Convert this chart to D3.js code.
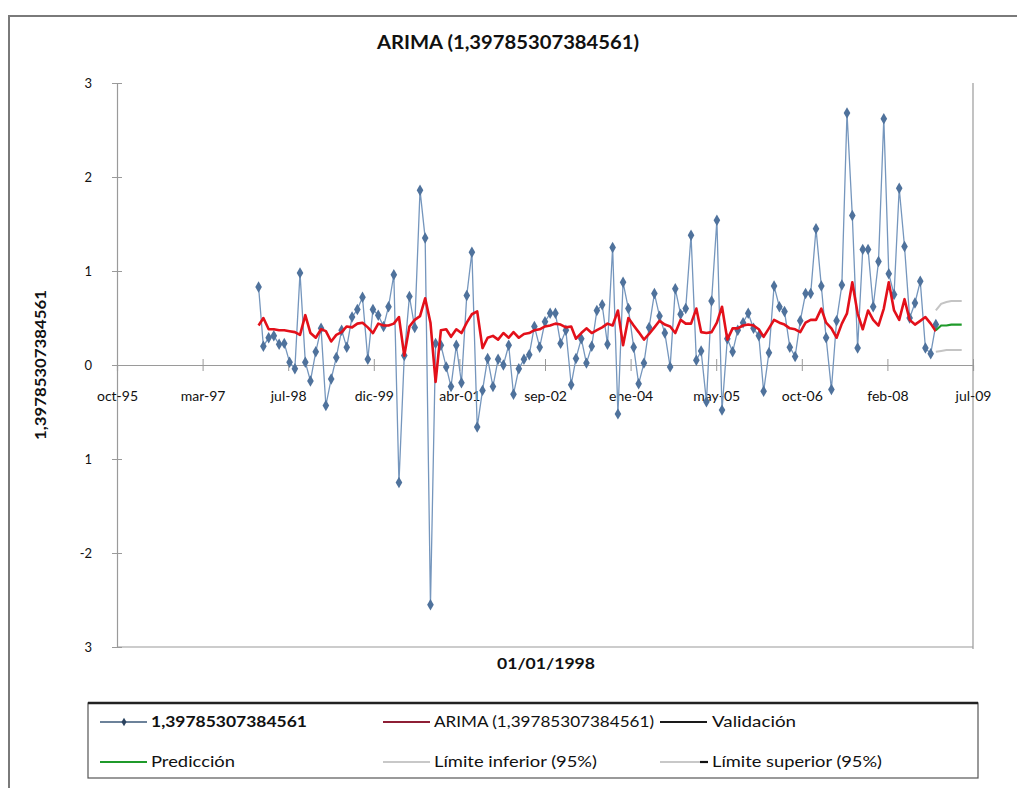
<!DOCTYPE html>
<html>
<head>
<meta charset="utf-8">
<script src="https://cdn.jsdelivr.net/npm/d3@7"></script>
<style>
  html, body { margin: 0; padding: 0; background: #fff; }
  svg { display: block; }
  text { font-family: Lato, "Open Sans", "Liberation Sans", sans-serif; fill: #111; }
</style>
</head>
<body>
<svg id="chart" width="1017" height="788"></svg>
<script>
// Monthly observations, first month Feb 1998
const seriesStart = [1998, 1];   // year, zero-based month
const observed = [
  0.83, 0.20, 0.29, 0.31, 0.22, 0.23, 0.03, -0.04, 0.98, 0.03, -0.17, 0.14,
  0.39, -0.43, -0.15, 0.08, 0.37, 0.19, 0.51, 0.59, 0.72, 0.06, 0.59, 0.53,
  0.41, 0.62, 0.96, -1.25, 0.10, 0.73, 0.40, 1.86, 1.35, -2.55, 0.23, 0.21,
  -0.02, -0.23, 0.21, -0.19, 0.74, 1.20, -0.66, -0.27, 0.07, -0.23, 0.06, 0.00,
  0.21, -0.31, -0.04, 0.06, 0.11, 0.41, 0.19, 0.46, 0.55, 0.55, 0.23, 0.37,
  -0.21, 0.07, 0.28, 0.02, 0.20, 0.58, 0.64, 0.22, 1.25, -0.52, 0.88, 0.60,
  0.19, -0.20, 0.02, 0.40, 0.76, 0.52, 0.34, -0.02, 0.81, 0.54, 0.60, 1.38,
  0.05, 0.15, -0.39, 0.68, 1.54, -0.48, 0.28, 0.14, 0.37, 0.45, 0.55, 0.39,
  0.31, -0.28, 0.13, 0.84, 0.62, 0.57, 0.19, 0.09, 0.47, 0.76, 0.76, 1.45,
  0.84, 0.29, -0.26, 0.47, 0.85, 2.68, 1.59, 0.18, 1.23, 1.23, 0.62, 1.10,
  2.62, 0.97, 0.75, 1.88, 1.26, 0.50, 0.66, 0.89, 0.18, 0.12, 0.43
];
// ARIMA fitted values, same months
const fitted = [
  0.42, 0.50, 0.38, 0.38, 0.37, 0.37, 0.36, 0.35, 0.32, 0.53, 0.34, 0.29,
  0.38, 0.36, 0.25, 0.32, 0.35, 0.41, 0.40, 0.44, 0.45, 0.40, 0.34, 0.44,
  0.42, 0.42, 0.44, 0.51, 0.10, 0.41, 0.48, 0.52, 0.71, 0.45, -0.18, 0.37,
  0.38, 0.30, 0.38, 0.34, 0.45, 0.54, 0.57, 0.18, 0.29, 0.31, 0.27, 0.34,
  0.29, 0.35, 0.29, 0.33, 0.34, 0.37, 0.38, 0.41, 0.42, 0.44, 0.43, 0.40,
  0.41, 0.28, 0.34, 0.39, 0.34, 0.37, 0.40, 0.44, 0.42, 0.58, 0.21, 0.50,
  0.42, 0.35, 0.27, 0.33, 0.40, 0.47, 0.43, 0.41, 0.34, 0.48, 0.44, 0.44,
  0.60, 0.35, 0.34, 0.35, 0.45, 0.62, 0.27, 0.39, 0.39, 0.42, 0.43, 0.42,
  0.38, 0.30, 0.39, 0.48, 0.45, 0.43, 0.39, 0.38, 0.35, 0.45, 0.48, 0.48,
  0.60, 0.45, 0.39, 0.29, 0.44, 0.55, 0.88, 0.55, 0.38, 0.58, 0.48, 0.42,
  0.60, 0.88, 0.58, 0.48, 0.70, 0.48, 0.43, 0.47, 0.51, 0.44, 0.36
];
// Forecast horizon starts at the last fitted month
const forecastOffset = 130;
const forecast = [0.37, 0.42, 0.42, 0.43, 0.43, 0.43];
const lowerBound = [0.14, 0.15, 0.16, 0.16, 0.16, 0.16];
const upperBound = [0.58, 0.65, 0.67, 0.68, 0.68, 0.68];

const xTickLabels = ["oct-95", "mar-97", "jul-98", "dic-99", "abr-01", "sep-02",
                     "ene-04", "may-05", "oct-06", "feb-08", "jul-09"];
const yTickValues = [-3, -2, -1, 0, 1, 2, 3];
const yTickLabels = ["3", "-2", "1", "0", "1", "2", "3"];

const titleText = "ARIMA (1,39785307384561)";
const xTitle = "01/01/1998";
const yTitle = "1,39785307384561";
const legendItems = [
  { label: "1,39785307384561", kind: "marker", w: 156 },
  { label: "ARIMA (1,39785307384561)", kind: "arima", w: 220 },
  { label: "Validación", kind: "valid", w: 84 },
  { label: "Predicción", kind: "pred", w: 84 },
  { label: "Límite inferior (95%)", kind: "lower", w: 163 },
  { label: "Límite superior (95%)", kind: "upper", w: 170 }
];

const svg = d3.select("#chart");

// spreadsheet-style date axis: serial 35000 .. 40000 every 500 days
const axisStart = new Date(1995, 9, 28);
const axisEnd = d3.timeDay.offset(axisStart, 5000);
const xTicks = d3.range(11).map(k => d3.timeDay.offset(axisStart, 500 * k));

const plot = { left: 117, right: 973, top: 83, bottom: 647 };
const x = d3.scaleTime().domain([axisStart, axisEnd]).range([plot.left, plot.right]);
const y = d3.scaleLinear().domain([-3, 3]).range([plot.bottom, plot.top]);

const monthDate = i => new Date(seriesStart[0], seriesStart[1] + i, 1);

// outer frame
svg.append("path")
  .attr("d", "M9,788 V16 H1017")
  .attr("fill", "none").attr("stroke", "#7a7a7a").attr("stroke-width", 2);

// title
svg.append("text")
  .attr("x", 508).attr("y", 49)
  .attr("text-anchor", "middle")
  .attr("font-size", 18).attr("font-weight", "bold")
  .attr("textLength", 262).attr("lengthAdjust", "spacingAndGlyphs")
  .text(titleText);

// plot frame: right and bottom edges
svg.append("line")
  .attr("x1", plot.right).attr("x2", plot.right)
  .attr("y1", plot.top).attr("y2", plot.bottom + 2)
  .attr("stroke", "#9a9a9a").attr("stroke-width", 1.2);
svg.append("line")
  .attr("x1", plot.left).attr("x2", plot.right)
  .attr("y1", plot.bottom).attr("y2", plot.bottom)
  .attr("stroke", "#9a9a9a").attr("stroke-width", 1.2);

// y axis
const yAxis = d3.axisLeft(y)
  .tickValues(yTickValues)
  .tickSize(5)
  .tickPadding(20)
  .tickFormat((d, i) => yTickLabels[i]);
const yg = svg.append("g").attr("transform", `translate(${plot.left},0)`).call(yAxis);
yg.select(".domain").attr("stroke", "#9a9a9a").attr("stroke-width", 1.2);
yg.selectAll(".tick line").attr("stroke", "#9a9a9a").attr("x2", 5).attr("x1", -5);
yg.selectAll(".tick text").attr("font-size", 13).attr("fill", "#222")
  .attr("font-family", "Lato, 'Open Sans', sans-serif");

// x axis through zero
const xAxis = d3.axisBottom(x)
  .tickValues(xTicks)
  .tickSize(6)
  .tickPadding(22)
  .tickFormat((d, i) => xTickLabels[i]);
const xg = svg.append("g").attr("transform", `translate(0,${y(0)})`).call(xAxis);
xg.select(".domain").attr("stroke", "#9a9a9a").attr("stroke-width", 1.2);
xg.selectAll(".tick line").attr("stroke", "#9a9a9a").attr("y1", -6).attr("y2", 6);
xg.selectAll(".tick text").attr("font-size", 14).attr("fill", "#333")
  .attr("font-family", "Lato, 'Open Sans', sans-serif")
  .attr("dy", "0.55em");

// axis titles
svg.append("text")
  .attr("x", 546).attr("y", 669)
  .attr("text-anchor", "middle")
  .attr("font-size", 16).attr("font-weight", "bold")
  .attr("textLength", 98).attr("lengthAdjust", "spacingAndGlyphs")
  .text(xTitle);
svg.append("text")
  .attr("transform", "translate(46,365) rotate(-90)")
  .attr("text-anchor", "middle")
  .attr("font-size", 16).attr("font-weight", "bold")
  .attr("textLength", 150).attr("lengthAdjust", "spacingAndGlyphs")
  .text(yTitle);

// observed series
const obsData = observed.map((v, i) => ({ date: monthDate(i), value: v }));
const fitData = fitted.map((v, i) => ({ date: monthDate(i), value: v }));
const toData = arr => arr.map((v, i) => ({ date: monthDate(forecastOffset + i), value: v }));

const line = d3.line().x(d => x(d.date)).y(d => y(d.value));

svg.append("path").datum(obsData)
  .attr("d", line).attr("fill", "none")
  .attr("stroke", "#7596bd").attr("stroke-width", 1.3);

const diamond = d3.symbol().type(d3.symbolDiamond).size(38);
svg.append("g").selectAll("path").data(obsData).join("path")
  .attr("transform", d => `translate(${x(d.date)},${y(d.value)})`)
  .attr("d", diamond)
  .attr("fill", "#4f729c");

// fitted ARIMA
svg.append("path").datum(fitData)
  .attr("d", line).attr("fill", "none")
  .attr("stroke", "#e3101a").attr("stroke-width", 2.6)
  .attr("stroke-linejoin", "round");

// forecast and bounds
svg.append("path").datum(toData(upperBound))
  .attr("d", line).attr("fill", "none")
  .attr("stroke", "#c4c4c4").attr("stroke-width", 2);
svg.append("path").datum(toData(lowerBound))
  .attr("d", line).attr("fill", "none")
  .attr("stroke", "#c4c4c4").attr("stroke-width", 2);
svg.append("path").datum(toData(forecast))
  .attr("d", line).attr("fill", "none")
  .attr("stroke", "#1f9a2a").attr("stroke-width", 2.2);

// legend
const legend = svg.append("g");
legend.append("rect")
  .attr("x", 88).attr("y", 703).attr("width", 890).attr("height", 75)
  .attr("fill", "#fff").attr("stroke", "#555").attr("stroke-width", 1.2);
legend.append("line")
  .attr("x1", 88).attr("x2", 978).attr("y1", 703).attr("y2", 703)
  .attr("stroke", "#222").attr("stroke-width", 2.5);

const colX = [100, 383, 660];
const rowY = [722, 762];
const keyStyle = {
  marker: { stroke: "#3b5878", width: 1.5 },
  arima: { stroke: "#8e1f35", width: 2.2 },
  valid: { stroke: "#1a1a1a", width: 2.2 },
  pred: { stroke: "#1f9a2a", width: 2.2 },
  lower: { stroke: "#c8c8c8", width: 2.2 },
  upper: { stroke: "#c8c8c8", width: 2.2 }
};
legendItems.forEach((item, k) => {
  const cx = colX[k % 3];
  const cy = rowY[Math.floor(k / 3)];
  const st = keyStyle[item.kind];
  const g = legend.append("g");
  g.append("line")
    .attr("x1", cx).attr("x2", cx + 47).attr("y1", cy).attr("y2", cy)
    .attr("stroke", st.stroke).attr("stroke-width", st.width);
  if (item.kind === "marker") {
    g.append("path").attr("d", d3.symbol().type(d3.symbolDiamond).size(22))
      .attr("transform", `translate(${cx + 24},${cy})`).attr("fill", "#2c4460");
  }
  if (item.kind === "upper") {
    g.append("line")
      .attr("x1", cx + 40).attr("x2", cx + 48).attr("y1", cy).attr("y2", cy)
      .attr("stroke", "#111").attr("stroke-width", 2.2);
  }
  g.append("text")
    .attr("x", cx + (item.kind === "upper" || item.kind === "valid" ? 52 : 51))
    .attr("y", cy + 5)
    .attr("font-size", 15)
    .attr("font-weight", item.kind === "marker" ? "bold" : "normal")
    .attr("textLength", item.w).attr("lengthAdjust", "spacingAndGlyphs")
    .text(item.label);
});
</script>
</body>
</html>
